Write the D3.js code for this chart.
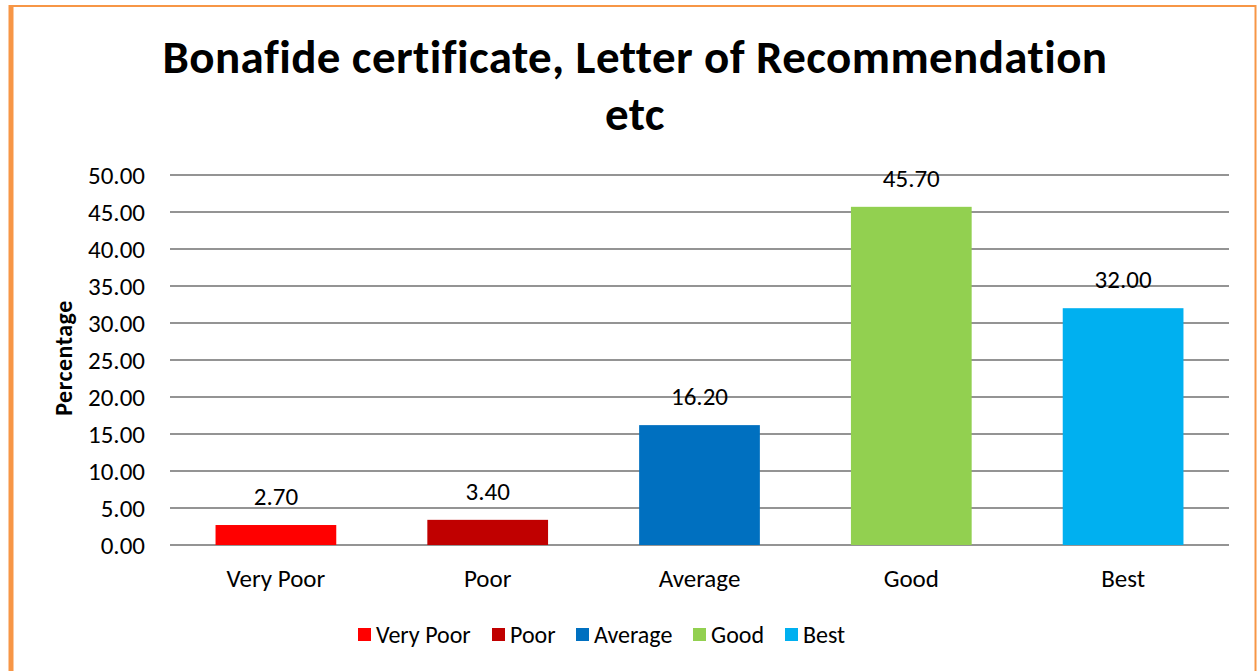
<!DOCTYPE html>
<html>
<head>
<meta charset="utf-8">
<script src="https://cdn.jsdelivr.net/npm/d3@7"></script>
<style>
  body { margin: 0; background: #fff; }
  svg { font-family: Carlito, Lato, "Open Sans", sans-serif; font-variant-ligatures: none; }
</style>
</head>
<body>
<div id="chart"></div>
<script>
// chart data
const categories = ['Very Poor', 'Poor', 'Average', 'Good', 'Best'];
const values = [2.70, 3.40, 16.20, 45.70, 32.00];
const colors = ['#FF0000', '#C00000', '#0070C0', '#92D050', '#00B0F0'];
const yTicks = [0, 5, 10, 15, 20, 25, 30, 35, 40, 45, 50];
const titleLines = ['Bonafide certificate, Letter of Recommendation', 'etc'];

const width = 1257, height = 671;
const margin = {top: 175, right: 28, bottom: 126, left: 170};
const innerW = width - margin.left - margin.right;
const innerH = height - margin.top - margin.bottom;

const svg = d3.select('#chart').append('svg')
	.attr('width', width)
	.attr('height', height);

// outer border
svg.append('rect')
	.attr('x', 10.5).attr('y', 6)
	.attr('width', 1245).attr('height', 700)
	.attr('fill', 'none')
	.attr('stroke', '#F79646')
	.attr('stroke-width', 2);
svg.append('line')
	.attr('x1', 11).attr('x2', 11).attr('y1', 5).attr('y2', height)
	.attr('stroke', '#F79646').attr('stroke-width', 5);

// title
svg.append('text')
	.attr('text-anchor', 'middle')
	.style('font-weight', 'bold')
	.style('font-size', '47px')
	.style('letter-spacing', '0.4px')
	.selectAll('tspan')
	.data(titleLines)
	.join('tspan')
	.attr('x', 635)
	.attr('y', (d, i) => 73 + i * 57)
	.text(d => d);

const x = d3.scaleBand()
	.domain(categories)
	.range([0, innerW])
	.paddingInner(0.43)
	.paddingOuter(0.215);

const y = d3.scaleLinear()
	.domain([0, 50])
	.range([innerH, 0]);

const g = svg.append('g')
	.attr('transform', `translate(${margin.left},${margin.top})`);

// gridlines
g.selectAll('.grid')
	.data(yTicks)
	.join('line')
	.attr('class', 'grid')
	.attr('x1', 0).attr('x2', innerW)
	.attr('y1', d => y(d)).attr('y2', d => y(d))
	.attr('stroke', '#949494')
	.attr('stroke-width', 1.8);

// y axis labels
const yAxis = d3.axisLeft(y)
	.tickValues(yTicks)
	.tickFormat(d3.format('.2f'))
	.tickSize(0)
	.tickPadding(25);
g.append('g')
	.call(yAxis)
	.call(s => s.select('.domain').remove())
	.selectAll('text')
	.style('font-size', '25px')
	.style('font-family', 'Carlito, Lato, "Open Sans", sans-serif')
	.attr('fill', '#000');

// x axis labels
const xAxis = d3.axisBottom(x).tickSize(0).tickPadding(24);
g.append('g')
	.attr('transform', `translate(0,${innerH})`)
	.call(xAxis)
	.call(s => s.select('.domain').remove())
	.selectAll('text')
	.style('font-size', '25px')
	.style('font-family', 'Carlito, Lato, "Open Sans", sans-serif')
	.attr('fill', '#000');

// bars
g.selectAll('.bar')
	.data(categories)
	.join('rect')
	.attr('class', 'bar')
	.attr('x', d => x(d))
	.attr('width', x.bandwidth())
	.attr('y', (d, i) => y(values[i]))
	.attr('height', (d, i) => innerH - y(values[i]))
	.attr('fill', (d, i) => colors[i]);

// value labels
g.selectAll('.val')
	.data(categories)
	.join('text')
	.attr('class', 'val')
	.attr('x', d => x(d) + x.bandwidth() / 2)
	.attr('y', (d, i) => y(values[i]) - 20)
	.attr('text-anchor', 'middle')
	.style('font-size', '25px')
	.text((d, i) => values[i].toFixed(2));

// y title
svg.append('text')
	.attr('transform', `translate(72,358) rotate(-90)`)
	.attr('text-anchor', 'middle')
	.style('font-weight', 'bold')
	.style('font-size', '24px')
	.style('letter-spacing', '0.5px')
	.text('Percentage');

// legend
const legendX = [358, 492, 576, 693, 785];
const legend = svg.append('g').attr('transform', 'translate(0,628)');
const items = legend.selectAll('g')
	.data(categories)
	.join('g')
	.attr('transform', (d, i) => `translate(${legendX[i]},0)`);
items.append('rect')
	.attr('width', 13).attr('height', 13)
	.attr('fill', (d, i) => colors[i]);
items.append('text')
	.attr('x', 18).attr('y', 15)
	.style('font-size', '24px')
	.text(d => d);
</script>
</body>
</html>
